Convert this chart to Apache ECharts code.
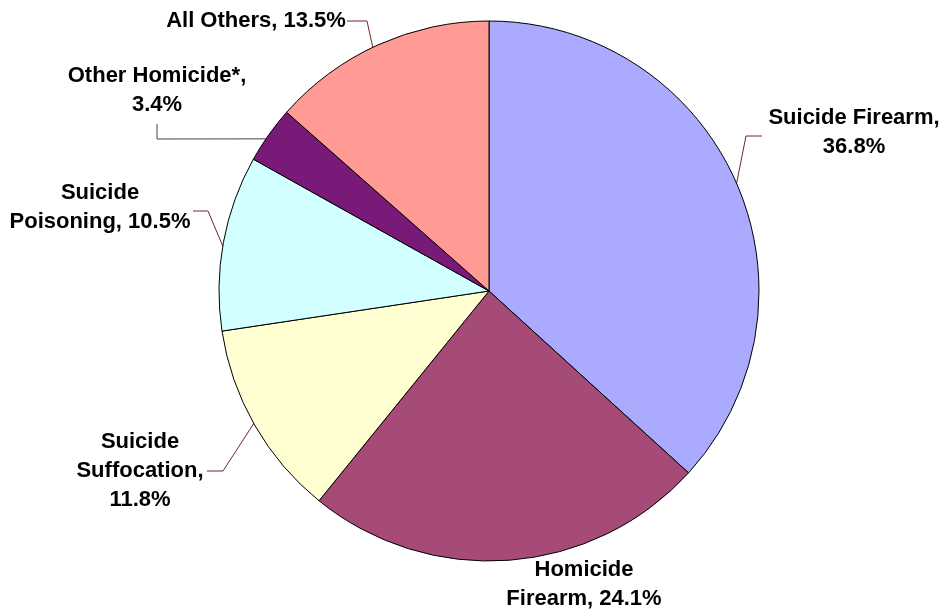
<!DOCTYPE html>
<html>
<head>
<meta charset="utf-8">
<script src="https://cdn.jsdelivr.net/npm/echarts@6/dist/echarts.min.js"></script>
<style>
  html, body { margin: 0; padding: 0; background: #ffffff; }
  #chart { width: 944px; height: 609px; }
</style>
</head>
<body>
<div id="chart"></div>
<script>
// ---- Data ----
const categories = ['Suicide Firearm', 'Homicide Firearm', 'Suicide Suffocation', 'Suicide Poisoning', 'Other Homicide*', 'All Others'];
const values = [36.8, 24.1, 11.8, 10.5, 3.4, 13.5];
const labelTemplates = [
  'Suicide Firearm,\n{v}%',
  'Homicide\nFirearm, {v}%',
  'Suicide\nSuffocation,\n{v}%',
  'Suicide\nPoisoning, {v}%',
  'Other Homicide*,\n{v}%',
  'All Others, {v}%'
];

// ---- Styles / layout ----
const sliceColors = ['#AAAAFF', '#A64A78', '#FFFFD2', '#D2FFFF', '#7A1A78', '#FF9A94'];
const leaderColors = ['#6e2a2a', null, '#6e2a2a', '#6e2a2a', '#444444', '#6e2a2a'];
const CX = 489, CY = 291, R = 270;
const placement = [
  { x: 854, y: 132, deg: 66.5, elbow: [746, 136], end: [762, 136] },
  { x: 584, y: 584 },
  { x: 140, y: 471, deg: 240.6, elbow: [223, 471], end: [207, 471] },
  { x: 100, y: 207, deg: 279.6, elbow: [208, 211], end: [193, 211] },
  { x: 157, y: 90, deg: 304.3, elbow: [157, 139], end: [157, 124] },
  { x: 256, y: 21, deg: 334.5, elbow: [367, 21], end: [347, 21] }
];

function edgePoint(deg) {
  const a = deg * Math.PI / 180;
  return [CX + R * Math.sin(a), CY - R * Math.cos(a)];
}

const seriesData = categories.map((name, i) => ({
  name: name,
  value: values[i],
  itemStyle: { color: sliceColors[i] },
  labelLine: leaderColors[i]
    ? { show: true, lineStyle: { color: leaderColors[i], width: 1 } }
    : { show: false }
}));

const chart = echarts.init(document.getElementById('chart'), null, { renderer: 'canvas' });
chart.setOption({
  animation: false,
  backgroundColor: '#ffffff',
  series: [{
    type: 'pie',
    center: [CX, CY],
    radius: [0, R],
    startAngle: 90,
    clockwise: true,
    avoidLabelOverlap: false,
    data: seriesData,
    itemStyle: { borderColor: '#000000', borderWidth: 1 },
    label: {
      show: true,
      position: 'outside',
      color: '#000000',
      fontFamily: '"Liberation Sans", Arial, sans-serif',
      fontWeight: 'bold',
      fontSize: 22,
      lineHeight: 29,
      align: 'center',
      formatter: p => labelTemplates[p.dataIndex].replace('{v}', values[p.dataIndex].toFixed(1))
    },
    labelLine: { show: true, length: 10, length2: 10, smooth: false },
    emphasis: { disabled: true },
    labelLayout: function (params) {
      const pl = placement[params.dataIndex];
      const out = { x: pl.x, y: pl.y, align: 'center', verticalAlign: 'middle' };
      if (pl.deg !== undefined) {
        out.labelLinePoints = [edgePoint(pl.deg), pl.elbow, pl.end];
      }
      return out;
    }
  }]
});
</script>
</body>
</html>
